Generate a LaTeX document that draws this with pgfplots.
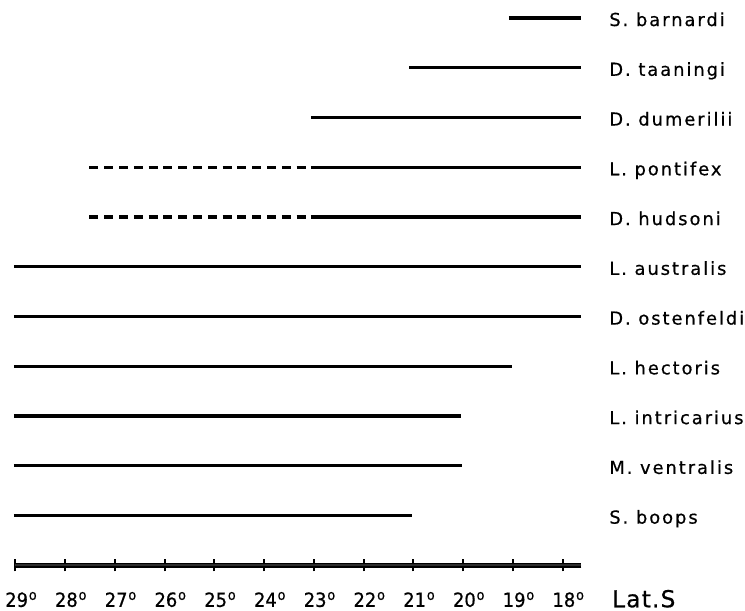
\documentclass[border=0pt]{standalone}
\usepackage{pgfplots}
\pgfplotsset{compat=1.18}
\usepackage{fontspec}
\setmainfont{DejaVu Sans}
\newfontfamily\spfont{DejaVu Sans}[LetterSpace=11, FakeBold=0.6]
\newfontfamily\tkfont{DejaVu Sans}[FakeStretch=0.92, FakeBold=0.6]
\newfontfamily\latfont{DejaVu Sans}[LetterSpace=5, FakeBold=0.6]
\newcommand{\dg}[1]{#1\rlap{\hspace{0.6pt}\raisebox{0.36em}{\fontsize{10.5}{10.5}\selectfont o}}}
\begin{document}
\begin{tikzpicture}
\begin{axis}[
  scale only axis, width=424.6pt, height=410.5pt,
  x dir=reverse, xmin=17.62, xmax=29, ymin=0, ymax=11,
  clip=false,
  axis x line=bottom, axis y line=right,
  x axis line style={-, draw=black, line width=1.4pt, double=gray!35!black, double distance=1.4pt},
  y axis line style={draw=none},
  xtick={18,19,20,21,22,23,24,25,26,27,28,29},
  xticklabels={\dg{18},\dg{19},\dg{20},\dg{21},\dg{22},\dg{23},\dg{24},\dg{25},\dg{26},\dg{27},\dg{28},\dg{29}},
  xtick align=center,
  major tick length=9pt,
  x tick style={black, line width=1.5pt},
  xticklabel style={font=\tkfont\fontsize{14.6}{17}\selectfont, anchor=base, inner sep=0pt, yshift=-26.6pt, xshift=1pt},
  ytick={1,2,3,4,5,6,7,8,9,10,11},
  yticklabels={S. boops, M. ventralis, L. intricarius, L. hectoris, D. ostenfeldi, L. australis, D. hudsoni, L. pontifex, D. dumerilii, D. taaningi, S. barnardi},
  y tick style={draw=none},
  yticklabel style={font=\spfont\fontsize{13.4}{16}\selectfont, anchor=base west, inner sep=0pt, xshift=16.2pt, yshift=-6pt},
]
\path (axis cs:29.308,11.362) rectangle (axis cs:14.333,-0.916);
\addplot[black, line width=2.4pt] coordinates {(19.08,11) (17.62,11)};
\addplot[black, line width=2.4pt] coordinates {(21.08,10) (17.62,10)};
\addplot[black, line width=2.4pt] coordinates {(23.06,9) (17.62,9)};
\addplot[black, line width=2.4pt] coordinates {(23.06,8) (17.62,8)};
\addplot[black, line width=2.4pt, dash pattern=on 6.75pt off 4.35pt] coordinates {(27.51,8) (23.12,8)};
\addplot[black, line width=2.4pt] coordinates {(23.06,7) (17.62,7)};
\addplot[black, line width=2.4pt, dash pattern=on 6.75pt off 4.35pt] coordinates {(27.51,7) (23.12,7)};
\addplot[black, line width=2.4pt] coordinates {(29.03,6) (17.62,6)};
\addplot[black, line width=2.4pt] coordinates {(29.03,5) (17.62,5)};
\addplot[black, line width=2.4pt] coordinates {(29.03,4) (19.02,4)};
\addplot[black, line width=2.4pt] coordinates {(29.03,3) (20.04,3)};
\addplot[black, line width=2.4pt] coordinates {(29.03,2) (20.02,2)};
\addplot[black, line width=2.4pt] coordinates {(29.03,1) (21.03,1)};
\node[anchor=base west, inner sep=0pt, font=\latfont\fontsize{17.5}{20}\selectfont] at (axis cs:17.01,-0.842) {Lat.S};
\end{axis}
\end{tikzpicture}
\end{document}
